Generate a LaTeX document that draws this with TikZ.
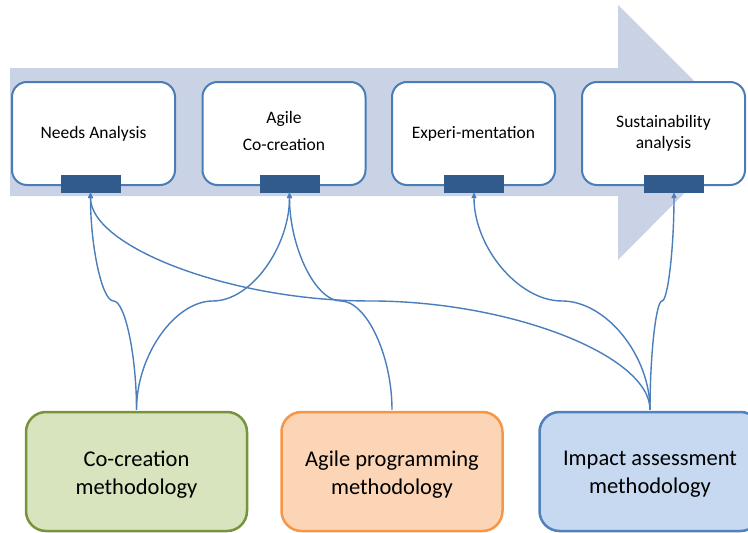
\documentclass[tikz,border=0pt]{standalone}
\usepackage{fontspec}
\setmainfont{Carlito}
\usetikzlibrary{arrows.meta,calc}
\definecolor{arrowfill}{HTML}{C9D3E5}
\definecolor{boxborder}{HTML}{4A7CB8}
\definecolor{portfill}{HTML}{325B8D}
\definecolor{linecol}{HTML}{4A7EBB}
\definecolor{gfill}{HTML}{D7E4BD}
\definecolor{gborder}{HTML}{77933C}
\definecolor{ofill}{HTML}{FBD5B5}
\definecolor{oborder}{HTML}{F79646}
\definecolor{bfill}{HTML}{C6D9F1}
\definecolor{bborder}{HTML}{4F81BD}
\tikzset{
  stagebox/.style={draw=boxborder, line width=2pt, fill=white, rounded corners=15pt,
    minimum width=163pt, minimum height=103pt, align=center,
    font=\fontsize{17.5}{21}\selectfont, inner sep=0pt},
  stagetext/.style={align=center, font=\fontsize{17.5}{21}\selectfont, inner sep=0pt},
  portbox/.style={draw=portfill, fill=portfill, minimum width=59pt, minimum height=17pt, inner sep=0pt},
  methbox/.style={line width=2.5pt, rounded corners=20pt, minimum width=221pt,
    minimum height=119pt, inner sep=0pt},
  methtext/.style={align=center, font=\fontsize{22.5}{28}\selectfont, inner sep=0pt},
  conn/.style={draw=linecol, line width=1.4pt, -{Triangle[length=6pt,width=5pt]}}
}
\newcommand{\curvconn}[2]{%
  \draw[conn] let \p1=(#1), \p2=(#2) in
    (\p1) .. controls (\x1,{(3*\y1+\y2)/4}) and ({(3*\x1+\x2)/4},{(\y1+\y2)/2}) ..
    ({(\x1+\x2)/2},{(\y1+\y2)/2}) .. controls ({(\x1+3*\x2)/4},{(\y1+\y2)/2}) and (\x2,{(\y1+3*\y2)/4}) .. (\p2);}
\begin{document}
\begin{tikzpicture}[x=1pt,y=-1pt]
\useasboundingbox (0,0) rectangle (748,533);
% big process arrow
\fill[arrowfill] (10,68) -- (618,68) -- (618,5) -- (745,132) -- (618,260) -- (618,196) -- (10,196) -- cycle;
% stage boxes
\node[stagebox] (na) at (93.5,133.5) {Needs Analysis};
\node[stagebox] (ac) at (284,133.5) {};
\node[stagetext] (actext) at ($(ac.center)+(0,-2.5)$) {Agile\\[6pt]Co-creation};
\node[stagebox] (ex) at (473.5,133.5) {Experi-mentation};
\node[stagebox] (sa) at (663.5,133.5) {Sustainability\\analysis};
% ports
\node[portbox] (p1) at (90.5,183.5) {};
\node[portbox] (p2) at (289.5,183.5) {};
\node[portbox] (p3) at (474,183.5) {};
\node[portbox] (p4) at (674,183.5) {};
% methodology boxes
\node[methbox, draw=gborder, fill=gfill] (cm) at (136.5,471.5) {};
\node[methbox, draw=oborder, fill=ofill] (am) at (392,471.5) {};
\node[methbox, draw=bborder, fill=bfill] (im) at (650,471.5) {};
\node[methtext] (cmtext) at ($(cm.center)+(0,3)$) {Co-creation\\methodology};
\node[methtext] (amtext) at ($(am.center)+(0,3)$) {Agile programming\\methodology};
\node[methtext] (imtext) at ($(im.center)+(0,3)$) {Impact assessment\\methodology};
% connectors
\coordinate (cmt) at ($(cm.north)+(0,-1)$);
\coordinate (amt) at ($(am.north)+(0,-1)$);
\coordinate (imt) at ($(im.north)+(0,-1)$);
\curvconn{cmt}{p1.south}
\curvconn{cmt}{p2.south}
\curvconn{amt}{p2.south}
\curvconn{imt}{p1.south}
\curvconn{imt}{p3.south}
\curvconn{imt}{p4.south}
\end{tikzpicture}
\end{document}
